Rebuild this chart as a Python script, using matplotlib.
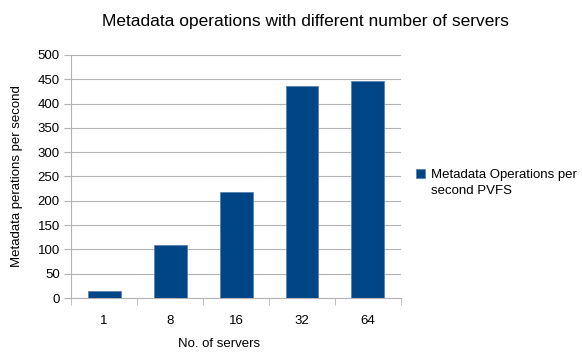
import matplotlib.pyplot as plt
import matplotlib.patches as mpatches
from matplotlib.container import BarContainer
from matplotlib.legend_handler import HandlerPatch
import numpy as np

plt.rcParams['font.family'] = ['Liberation Sans', 'DejaVu Sans']

servers = ['1', '8', '16', '32', '64']
ops_per_second = [15, 110, 219, 437, 447]
series_name = 'Metadata Operations per\nsecond PVFS'

fig = plt.figure(figsize=(5.82, 3.54), dpi=100)
ax = fig.add_axes([0.122, 0.158, 0.567, 0.687])

x = np.arange(len(servers))
ax.bar(x, ops_per_second, width=0.5, color='#004586', edgecolor='#5a83b0',
       linewidth=0.6, label=series_name, zorder=3)

ax.set_xlim(-0.5, len(servers) - 0.5)
ax.set_ylim(0, 500)
ax.set_yticks(np.arange(0, 501, 50))
ax.set_xticks(x)
ax.set_xticklabels(servers)
ax.set_xticks(np.arange(-0.5, len(servers), 1), minor=True)
ax.tick_params(axis='x', which='major', length=0, pad=12)
ax.tick_params(axis='x', which='minor', length=5, color='#b3b3b3')
ax.tick_params(axis='y', length=5, color='#b3b3b3', pad=3)
ax.tick_params(labelsize=9.5)

ax.grid(axis='y', color='#b3b3b3', linewidth=0.8, zorder=0)
for side in ['top', 'right']:
    ax.spines[side].set_visible(False)
for side in ['left', 'bottom']:
    ax.spines[side].set_color('#b3b3b3')

ax.set_xlabel('No. of servers', fontsize=9.5)
ax.xaxis.set_label_coords(0.45, -0.165)
ax.set_ylabel('Metadata perations per second', fontsize=9.5)
ax.yaxis.set_label_coords(-0.145, 0.5)
fig.suptitle('Metadata operations with different number of servers',
             fontsize=12.5, x=0.524, y=0.96)


# square sits next to the first line of the label, like LibreOffice
def top_square(legend, orig_handle, xdescent, ydescent, width, height, fontsize):
    side = height
    return mpatches.Rectangle((-xdescent, -ydescent + 7), side, side)


def first_bar_style(legend_handle, orig_handle):
    legend_handle.update_from(orig_handle[0])


leg = ax.legend(loc='center left', bbox_to_anchor=(1.01, 0.473), frameon=False,
                fontsize=9.5, handlelength=0.7, handleheight=0.7, handletextpad=0.4,
                handler_map={BarContainer: HandlerPatch(patch_func=top_square,
                                                        update_func=first_bar_style)})
for t in leg.get_texts():
    t.set_linespacing(1.4)

fig.savefig('out.png', dpi=100)
